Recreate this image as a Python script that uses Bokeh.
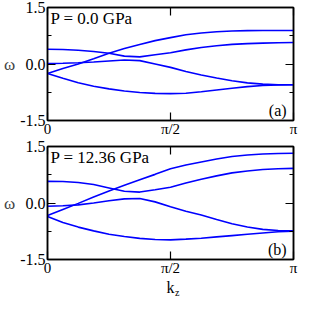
from bokeh.plotting import figure
from bokeh.models import FixedTicker, LinearAxis, Label, PrintfTickFormatter, Range1d
from bokeh.layouts import column
from bokeh.embed import file_html
from bokeh.resources import INLINE

# ---- data (k in units of pi) ----
k_frac = [0, 0.0625, 0.125, 0.1875, 0.25, 0.3125, 0.375, 0.4375, 0.5,
          0.5625, 0.625, 0.6875, 0.75, 0.8125, 0.875, 0.9375, 1.0]

# P = 0.0 GPa
p0_band_r = [-0.25, -0.12, 0.0, 0.14, 0.285, 0.41, 0.52, 0.62, 0.70,
             0.775, 0.825, 0.855, 0.875, 0.885, 0.89, 0.89, 0.89]
p0_band_u = [0.39, 0.385, 0.365, 0.33, 0.285, 0.21, 0.19, 0.245, 0.30,
             0.375, 0.44, 0.485, 0.52, 0.54, 0.555, 0.565, 0.57]
p0_band_m = [0.01, 0.02, 0.035, 0.055, 0.08, 0.105, 0.09, 0.0, -0.09,
             -0.2, -0.29, -0.37, -0.445, -0.5, -0.535, -0.55, -0.55]
p0_band_l = [-0.25, -0.38, -0.5, -0.59, -0.66, -0.715, -0.755, -0.78, -0.787,
             -0.775, -0.735, -0.69, -0.645, -0.6, -0.57, -0.555, -0.55]

# P = 12.36 GPa
p1_band_r = [-0.33, -0.17, -0.01, 0.16, 0.32, 0.47, 0.615, 0.76, 0.91,
             1.01, 1.09, 1.17, 1.235, 1.275, 1.30, 1.315, 1.32]
p1_band_u = [0.575, 0.57, 0.545, 0.49, 0.40, 0.31, 0.29, 0.35, 0.42,
             0.53, 0.63, 0.72, 0.80, 0.85, 0.89, 0.91, 0.92]
p1_band_m = [-0.087, -0.075, -0.05, 0.0, 0.06, 0.11, 0.12, 0.03, -0.10,
             -0.22, -0.32, -0.44, -0.55, -0.635, -0.70, -0.73, -0.74]
p1_band_l = [-0.36, -0.52, -0.64, -0.74, -0.83, -0.89, -0.94, -0.97, -0.98,
             -0.96, -0.935, -0.9, -0.865, -0.83, -0.795, -0.765, -0.75]

pressure_labels = ["P = 0.0 GPa", "P = 12.36 GPa"]
panel_tags = ["(a)", "(b)"]
x_tick_vals = [0, 0.5, 1]
x_tick_text = ["0", "π/2", "π"]
y_major = [-1.5, 0.0, 1.5]
y_minor = [-0.75, 0.75]
x_label_main = "k"
x_label_sub = "z"
y_label = "ω"

FONT = "Liberation Serif"
LINE_COLOR = "#0000ff"
BORDER_LEFT = 44
BORDER_RIGHT = 5


def style_axis(ax, ticker, show_labels):
    ax.ticker = ticker
    ax.major_tick_in = 8
    ax.major_tick_out = 0
    ax.minor_tick_in = 4
    ax.minor_tick_out = 0
    ax.axis_line_color = "black"
    ax.axis_line_width = 1.5
    ax.major_tick_line_color = "black"
    ax.major_tick_line_width = 1.2
    ax.minor_tick_line_color = "black"
    ax.minor_tick_line_width = 1.2
    ax.major_label_text_font = FONT
    ax.major_label_text_color = "black"
    if show_labels:
        ax.major_label_text_font_size = "15px"
        ax.major_label_standoff = 0
    else:
        ax.major_label_text_font_size = "0px"
        ax.major_label_standoff = 0
        ax.major_label_overrides = {t: "" for t in ticker.ticks}


def make_panel(bands, title, tag, height):
    p = figure(width=298, height=height, output_backend="svg",
               toolbar_location=None,
               x_range=Range1d(0, 1), y_range=Range1d(-1.5, 1.5),
               min_border_left=BORDER_LEFT, min_border_right=BORDER_RIGHT,
               min_border_top=7, min_border_bottom=17)
    p.background_fill_color = "white"
    p.border_fill_color = "white"
    p.outline_line_color = "black"
    p.outline_line_width = 1.5
    p.xgrid.grid_line_color = None
    p.ygrid.grid_line_color = None

    xt = FixedTicker(ticks=x_tick_vals, minor_ticks=[])
    yt = FixedTicker(ticks=y_major, minor_ticks=y_minor)

    xa = p.xaxis[0]
    style_axis(xa, xt, True)
    xa.major_label_overrides = {t: s for t, s in zip(x_tick_vals, x_tick_text)}

    ya = p.yaxis[0]
    style_axis(ya, yt, True)
    ya.major_label_text_font_size = "16px"
    ya.major_label_standoff = 2
    ya.formatter = PrintfTickFormatter(format="%.1f")
    ya.axis_label = y_label
    ya.axis_label_orientation = "horizontal"
    ya.axis_label_text_font = FONT
    ya.axis_label_text_font_size = "17px"
    ya.axis_label_text_font_style = "normal"
    ya.axis_label_standoff = 2

    ra = LinearAxis()
    style_axis(ra, FixedTicker(ticks=y_major, minor_ticks=y_minor), False)
    p.add_layout(ra, "right")
    ta = LinearAxis()
    style_axis(ta, FixedTicker(ticks=x_tick_vals, minor_ticks=[]), False)
    p.add_layout(ta, "above")

    for b in bands:
        p.line(k_frac, b, line_color=LINE_COLOR, line_width=1.6)

    p.add_layout(Label(x=0.012, y=1.47, text=title, text_baseline="top",
                       text_align="left", text_font=FONT,
                       text_font_size="17px", text_color="black"))
    p.add_layout(Label(x=0.972, y=-1.45, text=tag, text_baseline="bottom",
                       text_align="right", text_font=FONT,
                       text_font_size="16px", text_color="black"))
    return p


p_top = make_panel([p0_band_r, p0_band_u, p0_band_m, p0_band_l],
                   pressure_labels[0], panel_tags[0], 139)
p_bot = make_panel([p1_band_r, p1_band_u, p1_band_m, p1_band_l],
                   pressure_labels[1], panel_tags[1], 139)

# strip holding the x-axis title k_z, aligned with the panels' frames
p_lab = figure(width=298, height=20, output_backend="svg",
               toolbar_location=None,
               x_range=Range1d(0, 1), y_range=Range1d(0, 1),
               x_axis_location=None, y_axis_location=None,
               min_border_left=BORDER_LEFT, min_border_right=BORDER_RIGHT,
               min_border_top=0, min_border_bottom=0)
p_lab.outline_line_color = None
p_lab.xgrid.grid_line_color = None
p_lab.ygrid.grid_line_color = None
p_lab.add_layout(Label(x=0.5, y=1.0, text=x_label_main, text_baseline="top",
                       text_align="center", text_font=FONT,
                       text_font_size="16px", text_color="black"))
p_lab.add_layout(Label(x=0.518, y=0.6, text=x_label_sub, text_baseline="top",
                       text_align="left", text_font=FONT,
                       text_font_size="10px", text_color="black"))

p = column(p_top, p_bot, p_lab, spacing=0)
open("out.html", "w").write(file_html(p, INLINE))
